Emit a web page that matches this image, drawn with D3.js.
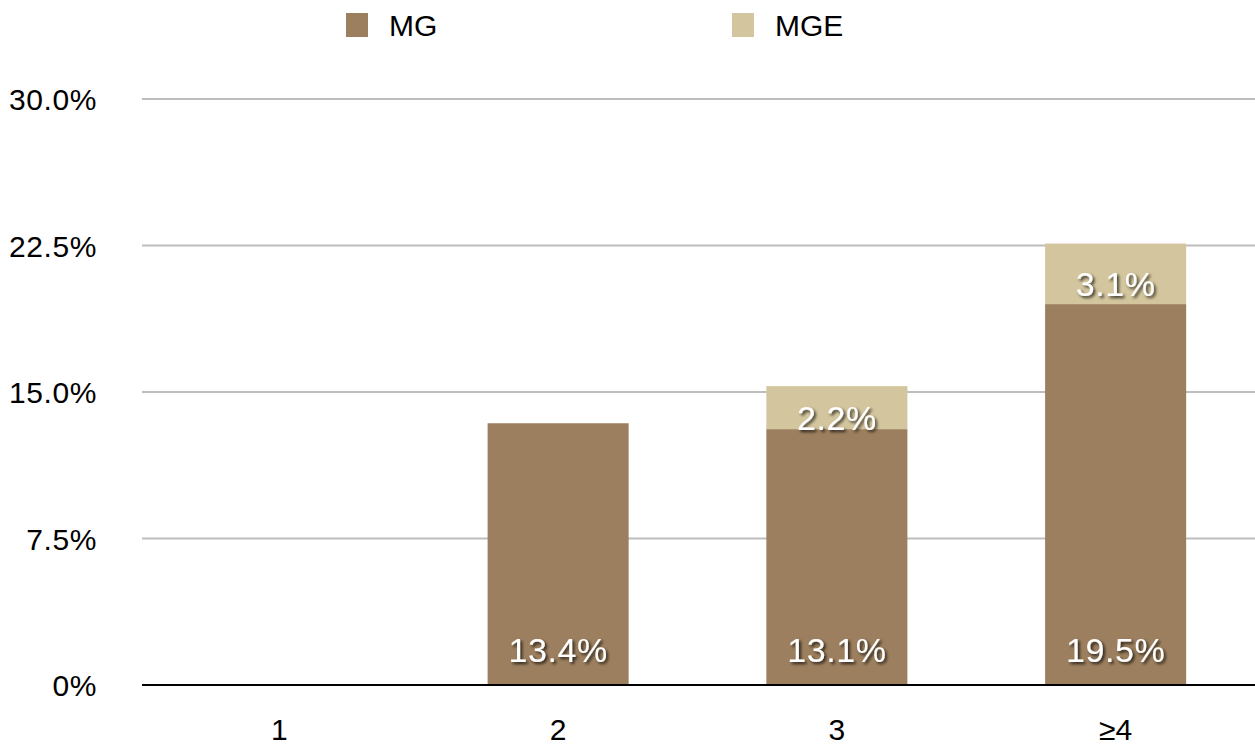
<!DOCTYPE html>
<html>
<head>
<meta charset="utf-8">
<script src="https://cdn.jsdelivr.net/npm/d3@7"></script>
<style>
  html, body { margin: 0; padding: 0; background: #fff; }
  svg { display: block; font-family: "Liberation Sans", Helvetica, Arial, sans-serif; }
</style>
</head>
<body>
<svg id="chart" width="1255" height="745"></svg>
<script>
// Categories and stacked series values (percent)
const categories = ["1", "2", "3", "≥4"];
const seriesNames = ["MG", "MGE"];
const mgValues  = [0, 13.4, 13.1, 19.5];
const mgeValues = [0, 0, 2.2, 3.1];
const yTicks = [0, 7.5, 15, 22.5, 30];
const yTickLabels = ["0%", "7.5%", "15.0%", "22.5%", "30.0%"];
const colors = ["#9c7f5e", "#d3c59d"];

const svg = d3.select("#chart");
const plot = { left: 142, right: 1255, top: 99, bottom: 685 };

const x = d3.scaleBand()
  .domain(categories)
  .range([140, 1255])
  .paddingInner(0.494)
  .paddingOuter(0.247);

const y = d3.scaleLinear()
  .domain([0, 30])
  .range([plot.bottom, plot.top]);

// drop shadow for in-bar labels
const defs = svg.append("defs");
const f = defs.append("filter").attr("id", "shadow")
  .attr("x", "-20%").attr("y", "-30%").attr("width", "140%").attr("height", "160%");
f.append("feDropShadow").attr("dx", 2).attr("dy", 2).attr("stdDeviation", 1.6)
  .attr("flood-color", "#000").attr("flood-opacity", 0.75);

// horizontal gridlines
svg.append("g").selectAll("line")
  .data(yTicks.filter(d => d > 0))
  .join("line")
  .attr("x1", plot.left).attr("x2", plot.right)
  .attr("y1", d => y(d)).attr("y2", d => y(d))
  .attr("stroke", "#bdbdbd").attr("stroke-width", 2);

// y tick labels
svg.append("g").selectAll("text")
  .data(yTicks)
  .join("text")
  .attr("x", 97)
  .attr("y", d => y(d) + 11)
  .attr("text-anchor", "end")
  .attr("font-size", 30)
  .attr("letter-spacing", 0.6)
  .attr("fill", "#000")
  .text((d, i) => yTickLabels[i]);

// stacked bars
const rows = categories.map((c, i) => ({ cat: c, MG: mgValues[i], MGE: mgeValues[i] }));
const stacked = d3.stack().keys(seriesNames)(rows);

svg.append("g").selectAll("g")
  .data(stacked)
  .join("g")
  .attr("fill", (d, i) => colors[i])
  .selectAll("rect")
  .data(d => d.filter(s => s[1] - s[0] > 0))
  .join("rect")
  .attr("x", d => x(d.data.cat))
  .attr("width", x.bandwidth())
  .attr("y", d => y(d[1]))
  .attr("height", d => y(d[0]) - y(d[1]));

// baseline
svg.append("line")
  .attr("x1", plot.left).attr("x2", plot.right)
  .attr("y1", y(0)).attr("y2", y(0))
  .attr("stroke", "#000").attr("stroke-width", 2);

// x labels
svg.append("g").selectAll("text")
  .data(categories)
  .join("text")
  .attr("x", d => x(d) + x.bandwidth() / 2)
  .attr("y", 740)
  .attr("text-anchor", "middle")
  .attr("font-size", 30)
  .attr("fill", "#000")
  .text(d => d);

// value labels: MG at base of bar, MGE centred in its segment
const labels = svg.append("g").attr("filter", "url(#shadow)")
  .attr("fill", "#fff").attr("font-size", 34).attr("letter-spacing", 0.6)
  .attr("text-anchor", "middle");

labels.selectAll("text.mg")
  .data(stacked[0].filter(s => s[1] - s[0] > 0))
  .join("text").attr("class", "mg")
  .attr("x", d => x(d.data.cat) + x.bandwidth() / 2)
  .attr("y", y(0) - 23)
  .text(d => (d[1] - d[0]).toFixed(1) + "%");

labels.selectAll("text.mge")
  .data(stacked[1].filter(s => s[1] - s[0] > 0))
  .join("text").attr("class", "mge")
  .attr("x", d => x(d.data.cat) + x.bandwidth() / 2)
  .attr("y", d => (y(d[0]) + y(d[1])) / 2 + 22)
  .text(d => (d[1] - d[0]).toFixed(1) + "%");

// legend
const legendX = [346, 732];
const legend = svg.append("g").selectAll("g")
  .data(seriesNames)
  .join("g")
  .attr("transform", (d, i) => `translate(${legendX[i]},13)`);
legend.append("rect").attr("width", 22).attr("height", 24)
  .attr("fill", (d, i) => colors[i]);
legend.append("text").attr("x", 43).attr("y", 23)
  .attr("font-size", 30).attr("fill", "#000")
  .text(d => d);
</script>
</body>
</html>
